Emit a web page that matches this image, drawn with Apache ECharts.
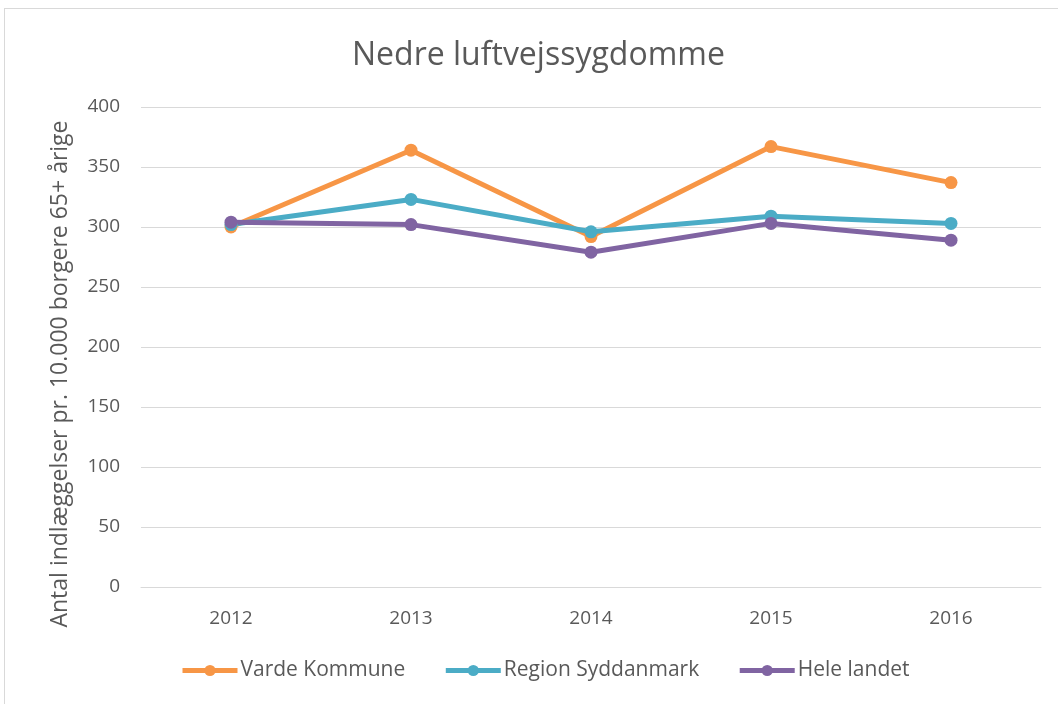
<!DOCTYPE html>
<html>
<head>
<meta charset="utf-8">
<script src="https://cdn.jsdelivr.net/npm/echarts@6/dist/echarts.min.js"></script>
<style>
    html, body { margin: 0; padding: 0; background: #fff; }
    #frame { position: absolute; left: 4px; top: 8px; width: 1060px; height: 700px; border: 1px solid #d9d9d9; box-sizing: border-box; }
    #chart { position: absolute; left: 0; top: 0; width: 1058px; height: 704px; }
</style>
</head>
<body>
<div id="frame"></div>
<div id="chart"></div>
<script>
// 数据
const years = ['2012', '2013', '2014', '2015', '2016'];
const varde = [300, 364, 292, 367, 337];
const regionSyd = [302, 323, 296, 309, 303];
const heleLandet = [304, 302, 279, 303, 289];

const FONT = '"Open Sans", "Noto Sans", sans-serif';
const TXT = '#595959';

const chart = echarts.init(document.getElementById('chart'));

function lineSeries(name, data, color) {
    return {
        name: name,
        type: 'line',
        data: data,
        symbol: 'circle',
        symbolSize: 13,
        lineStyle: { color: color, width: 5 },
        itemStyle: { color: color },
        emphasis: { disabled: true }
    };
}

const option = {
    animation: false,
    backgroundColor: 'transparent',
    color: ['#f79646', '#4bacc6', '#8064a2'],
    title: {
        text: 'Nedre luftvejssygdomme',
        left: 347,
        top: 35,
        textStyle: { color: TXT, fontSize: 32, fontWeight: 'normal', fontFamily: FONT }
    },
    legend: {
        bottom: 18,
        left: 175,
        itemWidth: 55,
        itemHeight: 14,
        itemGap: 38,
        lineStyle: { width: 5 },
        textStyle: { color: TXT, fontSize: 21, fontFamily: FONT, padding: [0, 0, 0, -2] },
        data: ['Varde Kommune', 'Region Syddanmark', 'Hele landet']
    },
    grid: { left: 141, right: 17, top: 107, bottom: 117 },
    xAxis: {
        type: 'category',
        data: years,
        boundaryGap: true,
        axisLine: { show: true, lineStyle: { color: '#d9d9d9' } },
        axisTick: { show: false },
        axisLabel: { color: TXT, fontSize: 19, fontFamily: FONT, margin: 22 }
    },
    yAxis: {
        type: 'value',
        min: 0, max: 400, interval: 50,
        name: 'Antal indlæggelser pr. 10.000 borgere 65+ årige',
        nameLocation: 'middle',
        nameGap: 69,
        nameTextStyle: { color: TXT, fontSize: 23, fontFamily: FONT, padding: [0, 54, 0, 0] },
        axisLine: { show: false },
        axisTick: { show: false },
        splitLine: { lineStyle: { color: '#d9d9d9', width: 1 } },
        axisLabel: { color: TXT, fontSize: 19, fontFamily: FONT, margin: 21 }
    },
    series: [
        lineSeries('Varde Kommune', varde, '#f79646'),
        lineSeries('Region Syddanmark', regionSyd, '#4bacc6'),
        lineSeries('Hele landet', heleLandet, '#8064a2')
    ]
};
chart.setOption(option);
</script>
</body>
</html>
